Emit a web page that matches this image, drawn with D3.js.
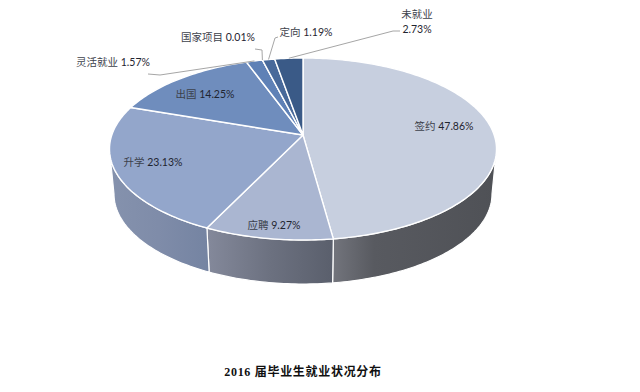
<!DOCTYPE html>
<html>
<head>
<meta charset="utf-8">
<script src="https://cdn.jsdelivr.net/npm/d3@7"></script>
<style>
html, body { margin: 0; padding: 0; background: #fff; }
svg { display: block; }
text { font-family: Lato, "Noto Sans CJK SC", sans-serif; fill: #1f2530; }
.name { fill: #3c414b; }
</style>
</head>
<body>
<div class="container"></div>
<script>
// values, clockwise from 12 o'clock
var categories = ['签约', '应聘', '升学', '出国', '灵活就业', '国家项目', '定向', '未就业'];
var percents = [47.86, 9.27, 23.13, 14.25, 1.57, 0.01, 1.19, 2.73];
var chartTitle = '2016 届毕业生就业状况分布';

var topColors = ['#c7cfdf', '#aab6d1', '#93a6cb', '#6f8dbd', '#5f81b6', '#5275aa', '#48699a', '#3a5a87'];
var wallColors = [['#72747c', '#585a60', '#4f5156'], ['#84899b', '#6c7180', '#5a5f6c'], ['#8592ad', '#7f8ca9', '#7584a2']];
var wallStops = [[0, 0.25, 1], [0, 0.5, 1], [0, 0.5, 1]];

// label anchors: [x, y] of the text centre, one per category
var labelAt = [[444, 126], [274, 225], [153, 162], [205, 94], [113, 62], [218, 37], [306, 32]];
// leader elbows for the outside labels, the last point is found from the slice
var leaderElbows = {4: [[148, 74], [160, 75]], 5: [[255, 49], [262, 50]], 6: [[278, 37], [275, 38]], 7: [[400, 31], [393, 31]]};

const WIDTH = 640;
const HEIGHT = 392;
const CX = 303;
const TOP_CY = 149;
const TOP_RX = 193.5;
const TOP_RY = 91;
const BOTTOM_CY = 194;
const BOTTOM_RX = 189;
const BOTTOM_RY = 90;
const TILT = -0.154; // moves the pie centre up, the way the 3d perspective does

var xTop = d3.scaleLinear().domain([-1, 1]).range([CX - TOP_RX, CX + TOP_RX]);
var yTop = d3.scaleLinear().domain([-1, 1]).range([TOP_CY - TOP_RY, TOP_CY + TOP_RY]);
var xBottom = d3.scaleLinear().domain([-1, 1]).range([CX - BOTTOM_RX, CX + BOTTOM_RX]);
var yBottom = d3.scaleLinear().domain([-1, 1]).range([BOTTOM_CY - BOTTOM_RY, BOTTOM_CY + BOTTOM_RY]);

// pie angle to a point on the unit disc, seen in perspective
var project = function(angle, r){
    var u = r * Math.sin(angle);
    var v = -r * Math.cos(angle);
    var d = 1 + TILT * v;
    return [u * Math.sqrt(1 - TILT * TILT) / d, (v + TILT) / d];
};

var toScreen = function(p){ return [xTop(p[0]), yTop(p[1])]; };

var sampleAngles = function(a0, a1){
    var n = Math.max(2, Math.ceil((a1 - a0) / 0.02));
    return d3.range(n + 1).map(function(i){ return a0 + (a1 - a0) * i / n; });
};

var line = d3.line();

var slices = d3.pie().sort(null)(percents);

var svg = d3.select('.container').append('svg')
    .attr('width', WIDTH)
    .attr('height', HEIGHT);

var defs = svg.append('defs');

// side wall, only the slices that reach below the widest point of the ellipse
var wall = svg.append('g');
var ellipseAngle = function(a){
    var p = project(a, 1);
    var t = Math.atan2(p[1], p[0]);
    return t < -Math.PI / 2 ? t + 2 * Math.PI : t;
};

slices.slice(0, 3).forEach(function(s, i){
    var t0 = Math.max(0, ellipseAngle(s.startAngle));
    var t1 = Math.min(Math.PI, ellipseAngle(s.endAngle));
    var ts = sampleAngles(t0, t1);
    var upper = ts.map(function(t){ return [xTop(Math.cos(t)), yTop(Math.sin(t))]; });
    var lower = ts.slice().reverse().map(function(t){ return [xBottom(Math.cos(t)), yBottom(Math.sin(t))]; });

    var xs = upper.map(function(p){ return p[0]; });
    var grad = defs.append('linearGradient')
        .attr('id', 'wall' + i)
        .attr('gradientUnits', 'userSpaceOnUse')
        .attr('x1', d3.min(xs)).attr('x2', d3.max(xs))
        .attr('y1', 0).attr('y2', 0);
    wallColors[i].forEach(function(c, j){
        grad.append('stop').attr('offset', wallStops[i][j]).attr('stop-color', c);
    });

    wall.append('path')
        .attr('d', line(upper.concat(lower)) + 'Z')
        .attr('fill', 'url(#wall' + i + ')')
        .attr('stroke', '#fff')
        .attr('stroke-width', 1.2);
});

// top face
svg.append('g').selectAll('path').data(slices)
    .enter().append('path')
    .attr('d', function(s){
        var rim = sampleAngles(s.startAngle, s.endAngle).map(function(a){ return toScreen(project(a, 1)); });
        return line([toScreen(project(0, 0))].concat(rim)) + 'Z';
    })
    .attr('fill', function(s, i){ return topColors[i]; })
    .attr('stroke', '#fff')
    .attr('stroke-width', 1.4)
    .attr('stroke-linejoin', 'round');

// leader lines
svg.append('g').selectAll('path').data(Object.keys(leaderElbows))
    .enter().append('path')
    .attr('d', function(k){
        var s = slices[+k];
        var end = toScreen(project((s.startAngle + s.endAngle) / 2, 1));
        return line(leaderElbows[k].concat([end]));
    })
    .attr('fill', 'none')
    .attr('stroke', '#a6a6a6')
    .attr('stroke-width', 1);

// labels
var labels = svg.append('g').attr('font-size', 10.5).attr('text-anchor', 'middle');
labelAt.forEach(function(p, i){
    var t = labels.append('text').attr('x', p[0]).attr('y', p[1]).attr('dy', '0.35em');
    t.append('tspan').attr('class', 'name').text(categories[i]);
    t.append('tspan').text(' ' + percents[i].toFixed(2) + '%');
});
labels.append('text').attr('class', 'name').attr('x', 417).attr('y', 14).attr('dy', '0.35em').text(categories[7]);
labels.append('text').attr('x', 417).attr('y', 29).attr('dy', '0.35em').text(percents[7].toFixed(2) + '%');

svg.append('text')
    .attr('x', 303)
    .attr('y', 372)
    .attr('dy', '0.35em')
    .attr('text-anchor', 'middle')
    .attr('font-size', 12)
    .attr('font-weight', 700)
    .attr('letter-spacing', 0.7)
    .style('font-family', '"Liberation Serif", "Noto Sans CJK SC", serif')
    .style('fill', '#111')
    .text(chartTitle);
</script>
</body>
</html>
